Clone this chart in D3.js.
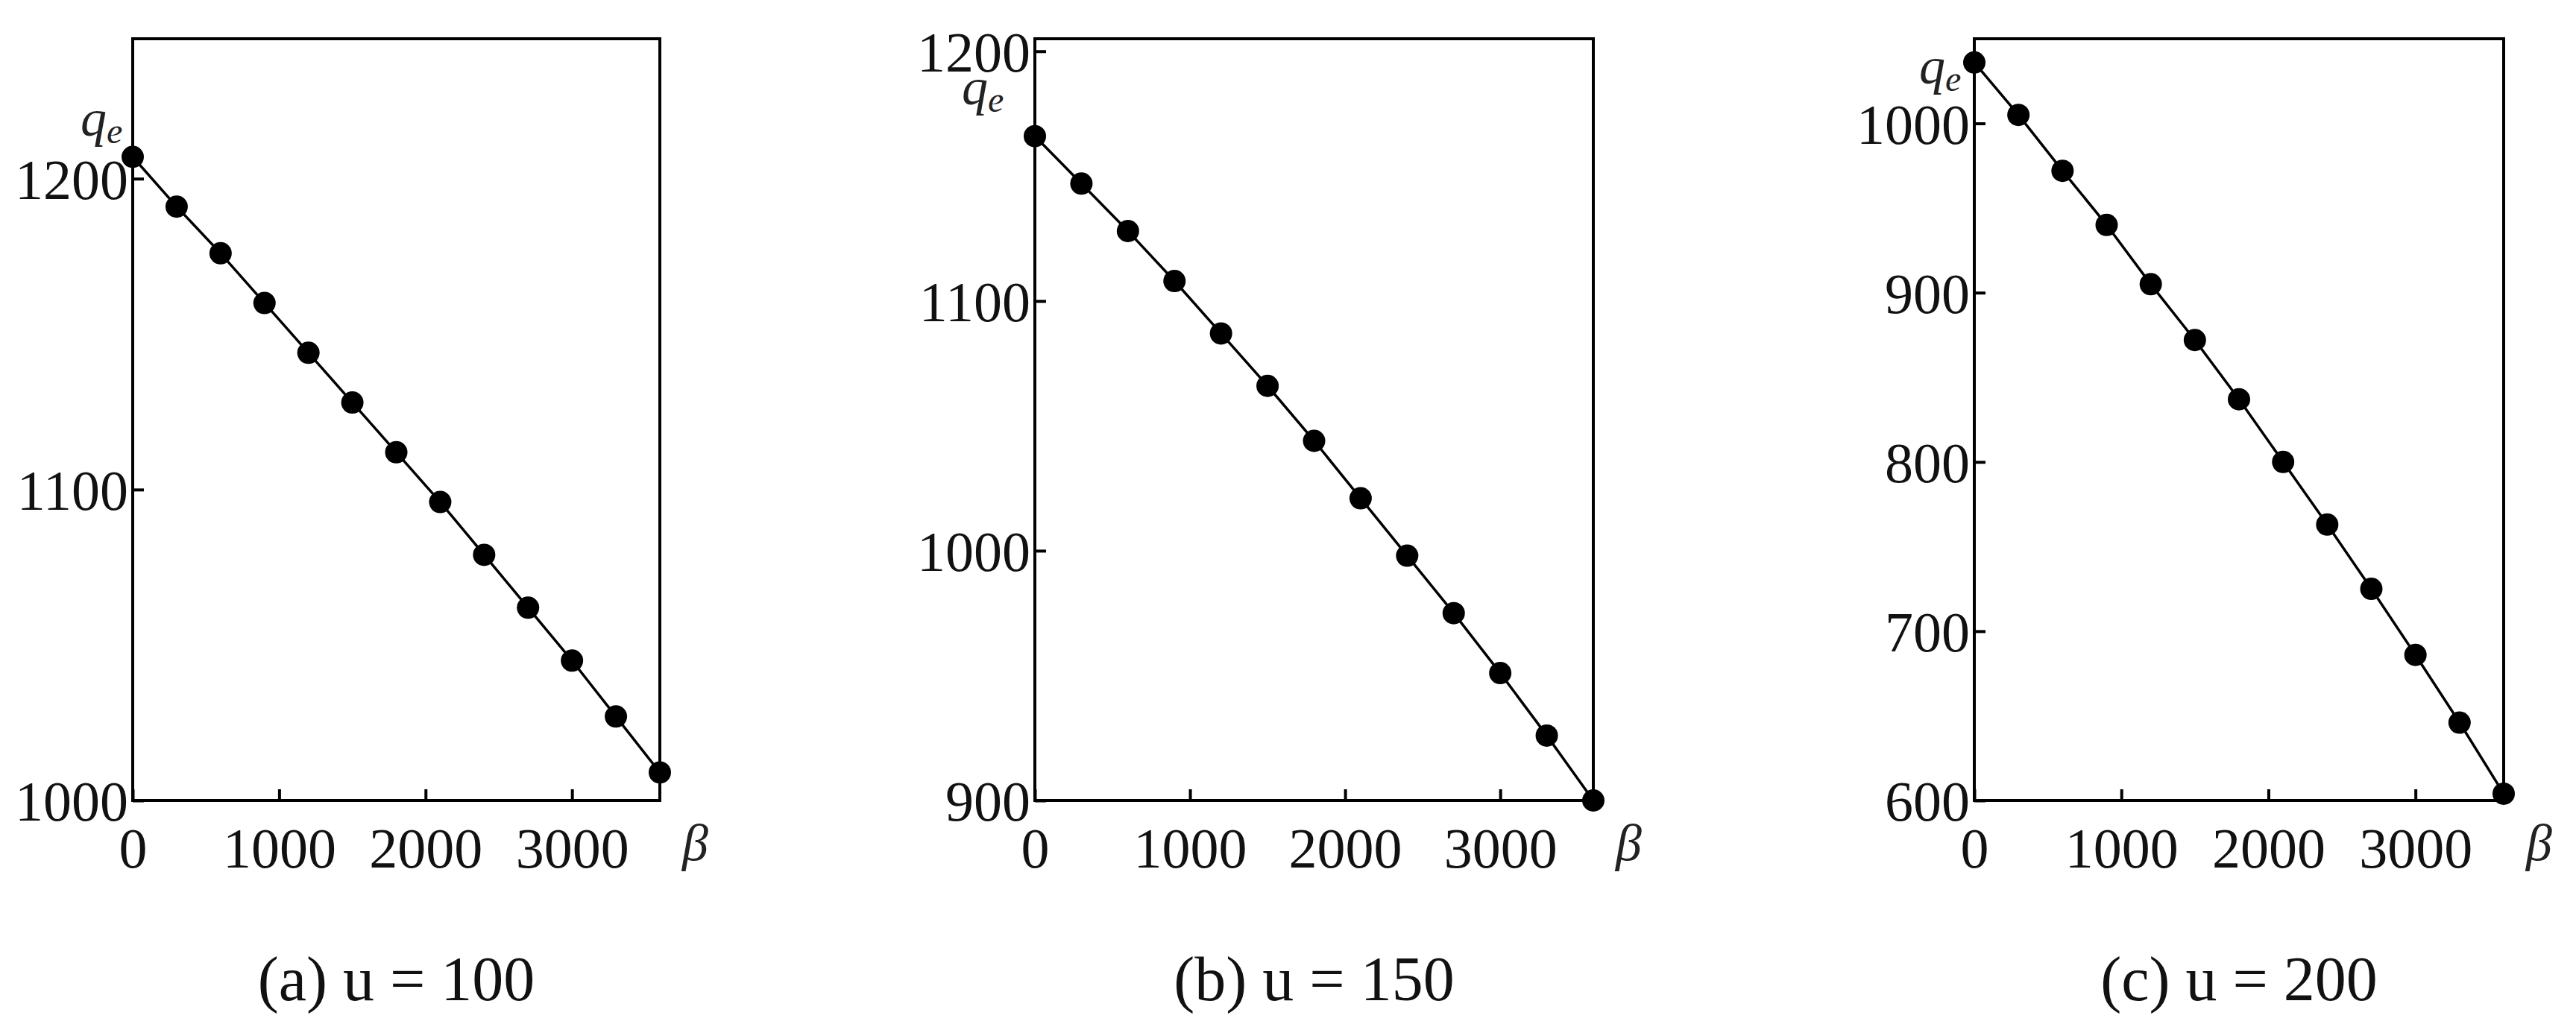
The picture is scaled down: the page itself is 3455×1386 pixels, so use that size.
<!DOCTYPE html>
<html><head><meta charset="utf-8">
<script src="https://cdn.jsdelivr.net/npm/d3@7"></script>
<style>body{margin:0;background:#fff}</style>
</head><body>
<script>
// shared x values (beta)
var beta = [0, 300, 600, 900, 1200, 1500, 1800, 2100, 2400, 2700, 3000, 3300, 3600];
var xTicks = [0, 1000, 2000, 3000];

// q_e for each panel
var qeA = [1207, 1191, 1176, 1160, 1144, 1128, 1112, 1096, 1079, 1062, 1045, 1027, 1009];
var qeB = [1166, 1147, 1128, 1108, 1087, 1066, 1044, 1021, 998, 975, 951, 926, 900];
var qeC = [1036, 1005, 972, 940, 905, 872, 837, 800, 763, 725, 686, 646, 604];

var ticksA = [1000, 1100, 1200];
var ticksB = [900, 1000, 1100, 1200];
var ticksC = [600, 700, 800, 900, 1000];

var captions = ["(a) u = 100", "(b) u = 150", "(c) u = 200"];

var panels = [
  {vals: qeA, ticks: ticksA, dom: [1000, 1245], left: 178, right: 885, qx: 108, qy: 182},
  {vals: qeB, ticks: ticksB, dom: [900, 1205], left: 1388, right: 2137, qx: 1290, qy: 140},
  {vals: qeC, ticks: ticksC, dom: [600, 1050], left: 2648, right: 3358, qx: 2574, qy: 112}
];
var plotTop = 52, plotBottom = 1074;
var font = "'Liberation Serif', 'DejaVu Serif', serif";

var svg = d3.select("body").append("svg").attr("width", 3455).attr("height", 1386);

panels.forEach(function (p, i) {
  var x = d3.scaleLinear().domain([0, 3600]).range([p.left, p.right]);
  var y = d3.scaleLinear().domain(p.dom).range([plotBottom, plotTop]);
  var g = svg.append("g");

  // frame
  g.append("rect").attr("x", p.left).attr("y", plotTop)
    .attr("width", p.right - p.left).attr("height", plotBottom - plotTop)
    .attr("fill", "none").attr("stroke", "#000").attr("stroke-width", 4);

  // x axis, ticks pointing in
  var xa = g.append("g").attr("transform", "translate(0," + plotBottom + ")")
    .call(d3.axisBottom(x).tickValues(xTicks).tickFormat(d3.format("d"))
      .tickSizeInner(-15).tickSizeOuter(0).tickPadding(36));
  // y axis
  var ya = g.append("g").attr("transform", "translate(" + p.left + ",0)")
    .call(d3.axisLeft(y).tickValues(p.ticks).tickFormat(d3.format("d"))
      .tickSizeInner(-15).tickSizeOuter(0).tickPadding(6));
  [xa, ya].forEach(function (a) {
    a.select(".domain").remove();
    a.selectAll("line").attr("stroke", "#000").attr("stroke-width", 4);
    a.selectAll("text").attr("font-family", font).attr("font-size", 76).attr("fill", "#111");
  });
  ya.selectAll("text").attr("dy", "0.35em");

  // line + dots
  var pts = beta.map(function (b, k) { return [b, p.vals[k]]; });
  g.append("path").datum(pts)
    .attr("d", d3.line().x(function (d) { return x(d[0]); }).y(function (d) { return y(d[1]); }))
    .attr("fill", "none").attr("stroke", "#000").attr("stroke-width", 3.5);
  g.selectAll("circle").data(pts).enter().append("circle")
    .attr("cx", function (d) { return x(d[0]); })
    .attr("cy", function (d) { return y(d[1]); })
    .attr("r", 15).attr("fill", "#000");

  // axis names
  var q = g.append("text").attr("x", p.qx).attr("y", p.qy)
    .attr("font-family", font).attr("font-style", "italic").attr("font-size", 70).attr("fill", "#222");
  q.append("tspan").text("q");
  q.append("tspan").attr("font-size", 48).attr("dy", 10).text("e");
  g.append("text").attr("x", p.right + 30).attr("y", plotBottom + 80)
    .attr("font-family", font).attr("font-style", "italic").attr("font-size", 70).attr("fill", "#222")
    .text("β");

  // caption
  g.append("text").attr("x", (p.left + p.right) / 2).attr("y", 1342)
    .attr("text-anchor", "middle").attr("font-family", font).attr("font-size", 84).attr("fill", "#111")
    .text(captions[i]);
});
</script>
</body></html>
